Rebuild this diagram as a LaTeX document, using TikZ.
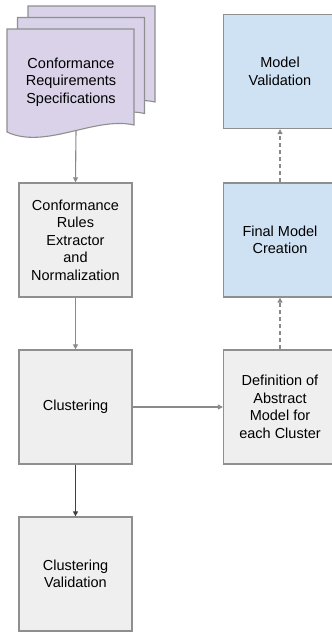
\documentclass[tikz,border=0pt]{standalone}
\usepackage{fontspec}
\setmainfont{Liberation Sans}
\usetikzlibrary{arrows.meta}
\definecolor{docfill}{HTML}{D9D2E9}
\definecolor{bluefill}{HTML}{CFE2F3}
\definecolor{greyfill}{HTML}{EFEFEF}
\definecolor{edge}{HTML}{8F8F8F}
\definecolor{arrowgrey}{HTML}{8A8A8A}
\tikzset{
  box/.style={draw=edge, line width=1.3pt, minimum width=113pt, minimum height=114pt,
    inner sep=0pt, align=center, font=\fontsize{14.5}{17.5}\selectfont},
  greybox/.style={box, fill=greyfill},
  bluebox/.style={box, fill=bluefill},
  docsheet/.style={draw=edge, line width=1.1pt, fill=docfill},
  flow/.style={draw=arrowgrey, line width=1.1pt, -{Triangle[length=5pt,width=5pt]}},
  darkflow/.style={draw=black!75, line width=1.1pt, -{Triangle[length=5pt,width=5pt]}},
  dashflow/.style={draw=arrowgrey, line width=1.1pt, dash pattern=on 4pt off 3pt, -{Triangle[length=5pt,width=5pt]}},
}
\begin{document}
\begin{tikzpicture}[x=1pt, y=-1pt]
\useasboundingbox (0,0) rectangle (332,633);
% stacked documents
\foreach \s in {2,1,0}{
  \draw[docsheet, shift={(10.5*\s,-11.5*\s)}]
    (7,29) -- (134,29) -- (134,125)
    .. controls (95,116) and (45,150) .. (7,132) -- cycle;
}
\node[align=center, font=\fontsize{14.5}{17.5}\selectfont] (doc) at (71,82)
  {Conformance\\Requirements\\Specifications};
\coordinate (docb) at (76,130);
% left column
\node[greybox] (rules) at (75.5,240) {Conformance\\Rules\\Extractor\\and\\Normalization};
\node[greybox] (clust) at (75.5,407) {Clustering};
\node[greybox] (cval) at (75.5,574) {Clustering\\Validation};
% right column
\node[bluebox] (mval) at (280,71.5) {Model\\Validation};
\node[bluebox] (final) at (280,240) {Final Model\\Creation};
\node[greybox] (absdef) at (280,407) {Definition of\\Abstract\\Model for\\each Cluster};
% connectors
\draw[flow] (docb) -- (rules.north);
\draw[flow] (rules) -- (clust);
\draw[darkflow] (clust) -- (cval);
\draw[flow] (clust) -- (absdef);
\draw[dashflow] (absdef) -- (final);
\draw[dashflow] (final) -- (mval);
\end{tikzpicture}
\end{document}
